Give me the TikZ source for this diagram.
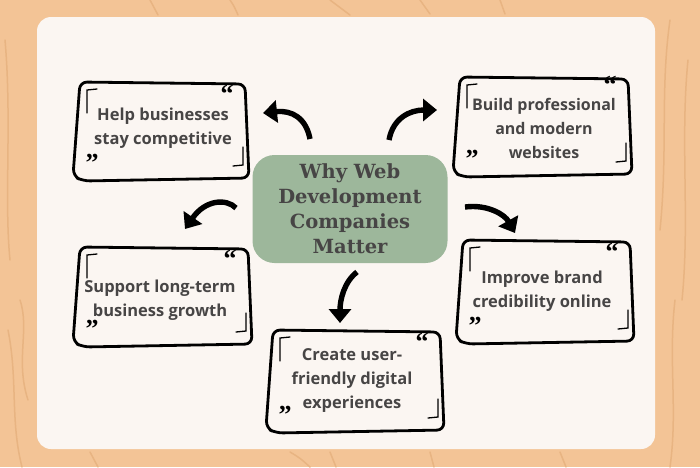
\documentclass[tikz,border=0pt]{standalone}
\usepackage{fontspec}
\usetikzlibrary{arrows.meta}
\newfontfamily\boxfont{Open Sans}
\newfontfamily\titlefont{DejaVu Serif}
\newfontfamily\quotefont{Liberation Serif}
\definecolor{bgorange}{HTML}{F3C496}
\definecolor{woodline}{HTML}{E8B482}
\definecolor{card}{HTML}{FBF6F2}
\definecolor{sage}{HTML}{9DB79B}
\definecolor{txtgray}{HTML}{474545}
\tikzset{
  frame/.style={line width=2.8pt, rounded corners=7pt, line join=round},
  markline/.style={line width=1.3pt, line cap=round},
  btxt/.style={font=\boxfont\bfseries\fontsize{16.5}{24}\selectfont, text=txtgray, align=center, inner sep=0pt},
  quo/.style={font=\quotefont\bfseries\fontsize{26}{26}\selectfont, inner sep=0pt, anchor=north},
  arr/.style={line width=5.4pt, -{Triangle[length=14pt,width=22pt]}},
  wood/.style={woodline, line width=1.5pt, line cap=round}
}
% optional #1: vertical lift of the top quote mark
\newcommand\roughbox[6][0]{%
  \draw[frame] (#3,#4) -- (#5-2,#4+2) -- (#5+2,#6-3) -- (#3+3,#6) -- (#3-7,#6-5) -- cycle;
  \draw[markline] (#3+7,#4+31) -- (#3+7,#4+8) -- (#3+17,#4+7);
  \draw[markline] (#5-4,#6-34) -- (#5-4,#6-16) -- (#5-14,#6-15);
  \node[quo] (#2q1) at (#5-20,#4+3-#1) {\char"201C};
  \node[quo] (#2q2) at (#3+12,#6-27) {\char"201D};
}
\begin{document}
\begin{tikzpicture}[x=1pt,y=-1pt]
\useasboundingbox (0,0) rectangle (700,467);
\fill[bgorange] (0,0) rectangle (700,467);
% wood grain streaks
\draw[wood] (5,40) .. controls (12,120) and (4,200) .. (10,260);
\draw[wood] (20,300) .. controls (30,330) and (15,360) .. (28,400);
\draw[wood] (8,330) .. controls (18,380) and (10,420) .. (22,467);
\draw[wood] (670,20) .. controls (660,90) and (668,150) .. (660,230);
\draw[wood] (688,60) .. controls (680,140) and (690,220) .. (682,300);
\draw[wood] (675,300) .. controls (668,360) and (678,410) .. (670,467);
\draw[wood] (150,0) -- (158,15);
\draw[wood] (230,0) .. controls (234,6) .. (238,15);
\draw[wood] (330,0) .. controls (340,8) .. (350,15);
\draw[wood] (420,0) -- (430,14);
\draw[wood] (500,0) -- (505,14);
\draw[wood] (90,452) -- (98,467);
\draw[wood] (290,452) .. controls (300,458) .. (310,467);
\draw[wood] (330,452) -- (336,467);
\draw[wood] (430,452) -- (434,467);
\draw[wood] (560,452) -- (566,467);
% card
\fill[card, rounded corners=14pt] (37,17) rectangle (655,449);
% center node
\node[fill=sage, rounded corners=22pt, minimum width=195pt, minimum height=108pt,
      font=\titlefont\bfseries\fontsize{19.5}{25}\selectfont, text=txtgray, align=center]
      (c) at (350,209) {Why Web\\Development\\Companies\\Matter};
% boxes
\roughbox{b1}{80}{82}{247}{181}
\node[btxt] (b1) at (163,128) {Help businesses\\stay competitive};
\roughbox[4]{b2}{460}{77}{630}{177}
\node[btxt, font=\boxfont\bfseries\fontsize{16}{24}\selectfont] (b2) at (544,128) {Build professional\\and modern\\websites};
\roughbox{b3}{80}{247}{250}{347}
\node[btxt] (b3) at (160,300) {Support long-term\\business growth};
\roughbox{b4}{463}{240}{632}{344}
\node[btxt] (b4) at (542,291) {Improve brand\\credibility online};
\roughbox{b5}{273}{330}{442}{433}
\node[btxt] (b5) at (352,380) {Create user-\\friendly digital\\experiences};
% arrows
\coordinate (a1s) at (310,139); \coordinate (a1e) at (263,113);
\coordinate (a2s) at (389,140); \coordinate (a2e) at (437,110);
\coordinate (a3s) at (236,208); \coordinate (a3e) at (185,229);
\coordinate (a4s) at (465,207); \coordinate (a4e) at (515,233);
\coordinate (a5s) at (357,272); \coordinate (a5e) at (340,323);
\draw[arr] (a1s) .. controls (306,118) and (292,110) .. (a1e);
\draw[arr] (a2s) .. controls (393,118) and (410,110) .. (a2e);
\draw[arr] (a3s) .. controls (226,198) and (205,200) .. (a3e);
\draw[arr] (a4s) .. controls (488,204) and (505,215) .. (a4e);
\draw[arr] (a5s) .. controls (344,282) and (340,300) .. (a5e);
\end{tikzpicture}
\end{document}
